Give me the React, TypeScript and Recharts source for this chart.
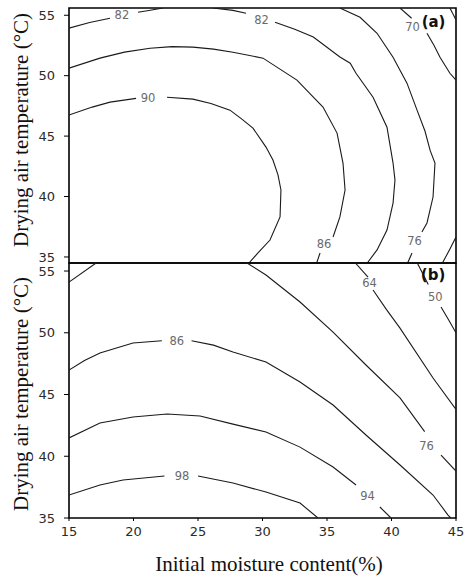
import { ReferenceArea, Scatter, ScatterChart, XAxis, YAxis } from 'recharts';

type Pt = { x: number; y: number };
type Tag = { x: number; y: number; text: string; bold?: boolean };

// axes
const xTicks = [15, 20, 25, 30, 35, 40, 45];
const yTicks = [35, 40, 45, 50, 55];
const yDomainA: [number, number] = [34.5, 55.6];
const yDomainB: [number, number] = [35, 55.65];

// panel (a) contour pieces, [moisture, temperature], broken where a level label sits
const a90a = [[15, 46.74], [16.8, 47.4], [18.18, 47.81], [20.2, 48.12]];
const a90b = [
  [22.6, 48.22], [24.61, 48.06], [26.0, 47.7], [27.48, 47.15], [28.4, 46.4], [29.26, 45.66],
  [30.27, 44.09], [30.81, 43.02], [31.2, 41.8], [31.43, 40.54], [31.36, 38.31], [30.58, 36.4],
  [29.65, 35.33], [28.95, 34.5],
];
const a86a = [
  [15, 50.62], [17.4, 51.45], [19.3, 51.95], [21.28, 52.27], [23.0, 52.4], [24.61, 52.36],
  [26.2, 52.2], [27.71, 51.94], [30.04, 51.45], [32.67, 49.63], [34.69, 47.4], [35.78, 45.25],
  [36.24, 42.77], [36.4, 40.54], [36.0, 38.31], [35.47, 36.65],
];
const a86b = [[34.46, 35.33], [34.2, 34.5]];
const a82a = [[15, 53.93], [16.6, 54.4], [18.18, 54.75]];
const a82b = [[20.35, 55.25], [21.3, 55.42], [22.29, 55.6]];
const a82c = [[26.16, 55.6], [27.71, 55.4], [28.72, 55.17]];
const a82d = [
  [30.97, 54.42], [32.5, 53.85], [33.94, 53.2], [36.0, 51.55], [36.8, 51.03], [37.25, 50.2],
  [38.57, 48.22], [39.65, 45.74], [40.12, 42.77], [40.27, 41.36], [40.12, 39.46], [39.65, 37.23],
  [38.88, 35.58], [38.12, 34.5],
];
const a76a = [
  [36.0, 55.6], [37.56, 54.83], [38.88, 53.51], [40.12, 51.53], [41.2, 49.38], [41.98, 47.15],
  [42.6, 45.4], [43.0, 43.8], [43.37, 42.77], [43.22, 39.96], [42.75, 37.81], [42.36, 37.07],
];
const a76b = [[41.59, 35.33], [41.25, 34.5]];
const a70a = [[40.66, 55.6], [41.56, 54.75]];
const a70b = [[42.75, 53.51], [43.3, 52.5], [43.76, 51.53], [44.53, 50.2], [45, 49.63]];
const a66 = [[44.53, 55.6], [45, 54.6]];
const a72 = [[45, 36.65], [44.5, 35.6], [43.95, 34.5]];

const tagsA: Tag[] = [
  { x: 19.1, y: 55.0, text: '82' },
  { x: 29.92, y: 54.59, text: '82' },
  { x: 21.12, y: 48.14, text: '90' },
  { x: 34.77, y: 36.07, text: '86' },
  { x: 41.78, y: 36.32, text: '76' },
  { x: 41.63, y: 54.01, text: '70' },
  { x: 43.26, y: 54.45, text: '(a)', bold: true },
];

// panel (b)
const b0 = [[15, 54.1], [17.1, 55.65]];
const b86a = [[15, 46.98], [16.2, 47.75], [17.4, 48.36], [19.96, 49.17], [22.2, 49.35]];
const b86b = [
  [24.5, 49.35], [26.2, 49.0], [27.71, 48.44], [30.27, 47.63], [32.91, 46.01], [35.47, 44.15],
  [38.02, 41.72], [40.66, 39.29], [43.22, 36.86], [44.38, 35.24], [44.6, 35],
];
const b94a = [
  [15, 41.48], [17.4, 42.69], [19.96, 43.18], [22.6, 43.42], [25.16, 43.26], [27.71, 42.6],
  [30.27, 41.96], [32.91, 40.74], [35.47, 39.13], [37.25, 37.67],
];
const b94b = [[39.1, 35.89], [39.96, 35]];
const b98a = [[15, 36.86], [17.4, 37.67], [19.19, 38.08], [22.4, 38.4]];
const b98b = [[25.0, 38.4], [27.71, 37.83], [30.27, 37.1], [32.91, 36.21], [34.3, 35]];
const b76a = [
  [28.8, 55.65], [30.27, 54.68], [32.91, 52.49], [35.47, 50.06], [38.02, 47.39], [40.66, 44.72],
  [42.57, 41.99],
];
const b76b = [[43.84, 40.1], [45, 38.8]];
const b64a = [[37.2, 55.65], [38.18, 54.51]];
const b64b = [[38.57, 53.46], [39.6, 51.9], [40.66, 50.38], [43.22, 46.34], [45, 43.8]];
const b50a = [[42.0, 55.65], [42.85, 53.9]];
const b50b = [[43.84, 52.09], [44.4, 51.1], [45, 50.0]];

const tagsB: Tag[] = [
  { x: 23.35, y: 49.33, text: '86' },
  { x: 23.76, y: 38.4, text: '98' },
  { x: 38.14, y: 36.78, text: '94' },
  { x: 42.71, y: 40.83, text: '76' },
  { x: 38.3, y: 54.03, text: '64' },
  { x: 43.4, y: 52.9, text: '50' },
  { x: 43.22, y: 54.68, text: '(b)', bold: true },
];

const toPts = (rows: number[][]): Pt[] => rows.map(([x, y]) => ({ x, y }));

const linesA = [a90a, a90b, a86a, a86b, a82a, a82b, a82c, a82d, a76a, a76b, a70a, a70b, a66, a72].map(toPts);
const linesB = [b0, b86a, b86b, b94a, b94b, b98a, b98b, b76a, b76b, b64a, b64b, b50a, b50b].map(toPts);

const INK = '#1a1a1a';
const tickStyle = { fill: '#2a2a2a', fontSize: 13, fontFamily: 'DejaVu Sans' };

const noDot = () => <g />;

const renderTag = (p: any) => {
  const t: Tag = p.payload;
  return (
    <text
      x={p.cx}
      y={p.cy}
      textAnchor="middle"
      dominantBaseline="central"
      fontFamily="DejaVu Sans"
      fontSize={t.bold ? 15 : 11.5}
      fontWeight={t.bold ? 700 : 400}
      fill={t.bold ? '#111' : '#6b6b6b'}
    >
      {t.text}
    </text>
  );
};

interface PanelProps {
  lines: Pt[][];
  tags: Tag[];
  yDomain: [number, number];
  showX: boolean;
  height: number;
}

const Panel = ({ lines, tags, yDomain, showX, height }: PanelProps) => (
  <ScatterChart
    width={466}
    height={height}
    margin={{ top: 8, right: 10, bottom: showX ? 0 : 7, left: 29 }}
  >
    <XAxis
      type="number"
      dataKey="x"
      domain={[15, 45]}
      ticks={xTicks}
      interval={0}
      allowDataOverflow
      hide={!showX}
      height={30}
      axisLine={false}
      tickLine={{ stroke: '#000' }}
      tickSize={3}
      tickMargin={6}
      tick={tickStyle}
    />
    <YAxis
      type="number"
      dataKey="y"
      domain={yDomain}
      ticks={yTicks}
      interval={0}
      allowDataOverflow
      width={40}
      axisLine={false}
      tickLine={{ stroke: '#000' }}
      tickSize={5}
      tickMargin={9}
      tick={tickStyle}
    />
    <ReferenceArea
      x1={15}
      x2={45}
      y1={yDomain[0]}
      y2={yDomain[1]}
      fill="none"
      stroke="#000"
      strokeWidth={1.6}
      ifOverflow="visible"
    />
    {lines.map((seg, i) => (
      <Scatter
        key={i}
        data={seg}
        fill={INK}
        line={{ stroke: INK, strokeWidth: 1.1 }}
        lineJointType="linear"
        shape={noDot}
        isAnimationActive={false}
      />
    ))}
    <Scatter data={tags} shape={renderTag} isAnimationActive={false} />
  </ScatterChart>
);

const titleY = {
  position: 'absolute' as const,
  width: 260,
  height: 24,
  lineHeight: '24px',
  textAlign: 'center' as const,
  transform: 'rotate(-90deg)',
  fontFamily: 'Liberation Serif',
  fontSize: 21,
  color: '#111',
  whiteSpace: 'nowrap' as const,
};

export default function App() {
  return (
    <div style={{ position: 'absolute', left: 0, top: 0, width: 466, height: 576, background: '#fff' }}>
      <div style={{ position: 'absolute', left: 0, top: 0 }}>
        <Panel lines={linesA} tags={tagsA} yDomain={yDomainA} showX={false} height={270} />
      </div>
      <div style={{ position: 'absolute', left: 0, top: 255 }}>
        <Panel lines={linesB} tags={tagsB} yDomain={yDomainB} showX height={293} />
      </div>
      <div style={{ ...titleY, left: 21 - 130, top: 130 - 12 }}>Drying air temperature (°C)</div>
      <div style={{ ...titleY, left: 21 - 130, top: 394 - 12 }}>Drying air temperature (°C)</div>
      <div
        style={{
          position: 'absolute',
          left: 269 - 150,
          top: 554,
          width: 300,
          textAlign: 'center',
          fontFamily: 'Liberation Serif',
          fontSize: 21,
          lineHeight: '21px',
          color: '#111',
          whiteSpace: 'nowrap',
        }}
      >
        Initial moisture content(%)
      </div>
    </div>
  );
}
